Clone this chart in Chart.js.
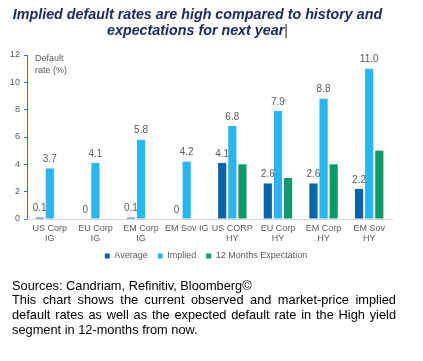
<!DOCTYPE html>
<html>
<head>
<meta charset="utf-8">
<script src="https://cdn.jsdelivr.net/npm/chart.js@4/dist/chart.umd.min.js"></script>
<style>
  html, body { margin: 0; padding: 0; background: #fff; }
  body { width: 423px; height: 361px; position: relative; overflow: hidden; font-family: "Liberation Sans", Arial, sans-serif; }
  #wrap { position: absolute; left: 0; top: 0; width: 423px; height: 361px; }
  #title { position: absolute; left: 0; top: 6px; width: 395px; text-align: center; font-weight: bold; font-style: italic; font-size: 14.3px; line-height: 16px; color: #1b2a66; }
  #ylab { position: absolute; left: 35px; top: 53px; font-size: 9px; line-height: 11.7px; color: #595959; }
  #foot { position: absolute; left: 12px; top: 278.5px; width: 384px; font-size: 12.8px; line-height: 14.7px; color: #000; text-align: justify; }
  .cursor { font-weight: normal; font-style: normal; color: #333; }
</style>
</head>
<body>
<div id="wrap"><canvas id="c" width="423" height="361"></canvas></div>
<div id="title">Implied default rates are high compared to history and<br>expectations for next year<span class="cursor">|</span></div>
<div id="ylab">Default<br>rate (%)</div>
<div id="foot">Sources: Candriam, Refinitiv, Bloomberg©<br>This chart shows the current observed and market-price implied default rates as well as the expected default rate in the High yield segment in 12-months from now.</div>
<script>
const categories = [["US Corp","IG"],["EU Corp","IG"],["EM Corp","IG"],"EM Sov IG",["US CORP","HY"],["EU Corp","HY"],["EM Corp","HY"],["EM Sov","HY"]];
const averageValues = [0.1, 0, 0.1, 0, 4.1, 2.6, 2.6, 2.2];
const impliedValues = [3.7, 4.1, 5.8, 4.2, 6.8, 7.9, 8.8, 11.0];
const expectationValues = [null, null, null, null, 4.0, 3.0, 4.0, 5.0];
const seriesNames = ["Average", "Implied", "12 Months Expectation"];
const yTicks = [0, 2, 4, 6, 8, 10, 12];

const grey = "#595959";
const fontFam = "'Liberation Sans', Arial, sans-serif";

const labelPlugin = {
  id: "barLabels",
  afterLayout(chart) {
    const lg = chart.legend;
    if (lg) { lg.left += 10; lg.right += 10; lg.top -= 3.5; lg.bottom -= 3.5; }
  },
  afterDatasetsDraw(chart) {
    const ctx = chart.ctx;
    ctx.save();
    ctx.font = "10px " + fontFam;
    ctx.fillStyle = grey;
    ctx.textAlign = "center";
    ctx.textBaseline = "bottom";
    [0, 1].forEach(di => {
      const meta = chart.getDatasetMeta(di);
      const ds = chart.data.datasets[di];
      meta.data.forEach((bar, i) => {
        const v = ds.data[i];
        if (v === null || v === undefined) return;
        const txt = (di === 0 && v === 0) ? "0" : v.toFixed(1);
        ctx.fillText(txt, bar.x, bar.y - 4);
      });
    });
    ctx.restore();
  }
};

new Chart(document.getElementById("c"), {
  type: "bar",
  data: {
    labels: categories,
    datasets: [
      { label: seriesNames[0], data: averageValues, backgroundColor: "#0b63a9" },
      { label: seriesNames[1], data: impliedValues, backgroundColor: "#29b5ed" },
      { label: seriesNames[2], data: expectationValues, backgroundColor: "#0c9a6c" }
    ]
  },
  options: {
    responsive: false,
    animation: false,
    maintainAspectRatio: false,
    datasets: { bar: { categoryPercentage: 0.665, barPercentage: 0.81 } },
    layout: { padding: { left: 0, right: 31, top: 55, bottom: 87 } },
    scales: {
      y: {
        min: 0, max: 12,
        afterBuildTicks(scale) { scale.ticks = yTicks.map(v => ({ value: v })); },
        afterFit(scale) { scale.width = 27; },
        ticks: { color: grey, font: { size: 9, family: fontFam }, padding: 4 },
        grid: { display: true, drawOnChartArea: false, drawTicks: true, tickLength: 3, color: "#2e75b6" },
        border: { display: true, color: "#2e75b6" }
      },
      x: {
        afterFit(scale) { scale.height = 26; },
        ticks: { color: grey, font: { size: 9, family: fontFam, lineHeight: 1.11 }, padding: 5, maxRotation: 0, autoSkip: false },
        grid: { display: false, drawTicks: false, tickLength: 0 },
        border: { display: true, color: "#d9d9d9" }
      }
    },
    plugins: {
      legend: {
        position: "bottom",
        labels: { color: grey, font: { size: 9, family: fontFam }, boxWidth: 5, boxHeight: 5, padding: 10 }
      },
      tooltip: { enabled: false }
    }
  },
  plugins: [labelPlugin]
});
</script>
</body>
</html>
